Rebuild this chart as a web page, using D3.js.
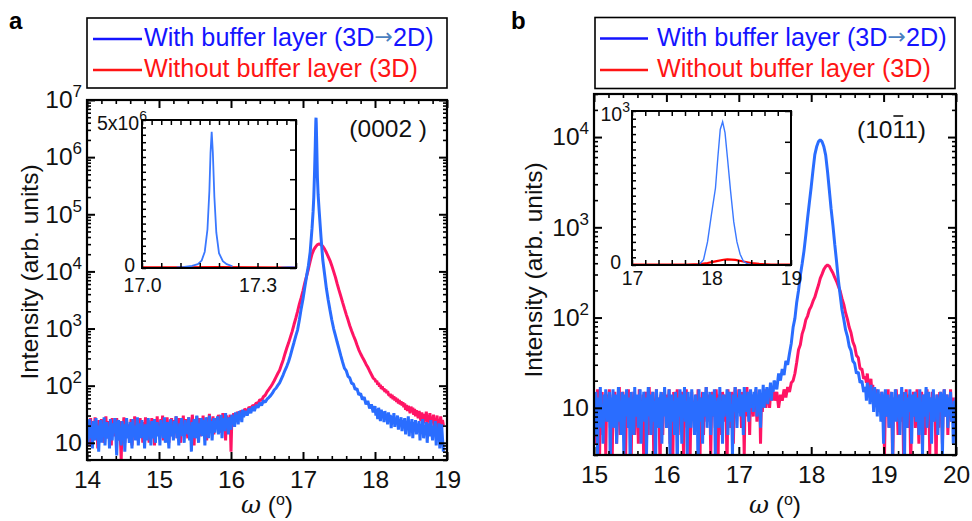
<!DOCTYPE html>
<html><head><meta charset="utf-8">
<script src="https://cdn.jsdelivr.net/npm/d3@7"></script>
<style>
body{margin:0;background:#fff}
text{font-family:"Liberation Sans",Arial,Helvetica,sans-serif}
</style>
</head><body>
<svg id="c" width="972" height="521"></svg>
<script>
// ================= DATA =================
// Each curve is read in three pieces: noisy left wing (fine sampling),
// peak region (0.025 deg sampling), noisy right wing (fine sampling).
// [start omega, step] of each piece:
const segA = {left: [14.0, 0.0125], mid: [16.2, 0.025], right: [18.0, 0.0125]};
const segB = {left: [15.0, 0.0125], mid: [17.5, 0.025], right: [18.75, 0.0125]};

// ---- Panel a, (0002), with buffer layer (blue) ----
const blueA_left = [
22,9,17,26,12,19,8,24,15,11,27,13,20,7,18,25,
10,21,14,28,9,17,23,12,19,8,26,15,11,22,16,27,
13,6,20,25,11,18,9,24,14,21,7,17,27,12,19,10,
23,15,8,26,13,20,11,18,28,9,16,22,12,25,14,19,
8,21,17,11,27,14,20,9,24,16,12,26,10,19,23,13,
18,9,25,15,21,12,28,10,17,23,14,8,20,26,13,19,
11,24,16,29,12,19,9,22,15,27,13,18,10,25,17,21,
14,28,11,20,7,23,17,26,12,19,30,15,10,22,18,27,
13,25,19,9,28,16,22,12,30,18,24,11,20,27,15,23,
19,29,14,24,17,31,12,22,27,16,33,20,25,14,28,21,
17,31,23,27,19,34,24,29,21,36,26,31,23,38,28,33];
const blueA_mid = [
36,30,40,33,43,36,46,41,50,45,55,51,
58,62,67,74,84,90,101,112,132,155,186,218,265,335,440,570,745,950,1420,2230,
3300,5250,8300,12600,22000,56000,200000,3000000,450000,112000,40000,15800,8900,5000,3160,2100,1410,1000,760,575,
440,335,258,203,184,146,137,110,107,86,89,69,73,57,63,47,54,40,47,34];
const blueA_right = [
44,30,39,26,41,33,24,38,29,35,23,36,28,32,21,34,
25,31,18,29,23,33,19,27,22,30,17,26,21,28,16,25,
20,27,14,24,18,29,13,22,19,26,12,23,17,25,14,21,
18,24,11,21,16,26,12,20,15,23,10,19,22,13,25,16,
11,20,15,24,9,18,13,22,8,17,21,12,7];
// finely sampled points on the sharp (0002) peak, [omega, intensity]
const blueA_peak = [[17.13,70000],[17.14,110000],[17.16,520000],[17.165,900000],[17.17,1550000],
[17.178,4200000],[17.181,4900000],[17.184,4000000],[17.188,2400000],[17.193,1200000],[17.21,220000]];

// ---- Panel a, without buffer layer (red) ----
const redA_left = [
24,13,20,9,27,16,22,11,18,28,14,21,8,25,17,12,
26,15,19,10,23,29,12,18,24,14,21,9,27,16,22,13,
20,27,11,17,24,13,5,22,16,28,10,19,25,14,21,12,
18,26,9,22,15,29,12,20,24,11,17,27,14,21,10,23,
16,28,12,19,25,10,22,15,27,13,20,9,24,17,29,14,
21,12,26,16,30,11,19,24,14,28,17,10,23,20,27,13,
25,15,20,29,12,22,27,16,10,24,19,30,14,21,26,17,
12,28,18,23,14,31,20,9,25,17,29,15,22,27,13,24,
19,30,16,25,21,11,28,18,32,15,24,20,29,14,26,22,
27,18,31,22,15,29,24,33,19,26,11,30,23,28,20,31,
7,29,25,33,27,31,24,35,29,33,27,37,31,35,30,39];
const redA_mid = [
38,36,42,40,45,44,50,49,57,55,64,68,
78,86,95,107,122,141,163,186,229,282,363,457,562,708,891,1175,1514,1995,2692,3467,
4570,6300,8300,11000,15100,20000,24000,26900,29500,30200,29500,27500,24500,21400,18200,15500,12600,10000,7940,6030,
4700,3700,2870,2250,1770,1420,1120,915,755,635,515,425,362,315,276,238,210,181,157,136];
const redA_right = [
128,116,122,104,112,96,103,88,97,84,90,78,85,74,80,70,
67,72,61,69,58,65,55,62,52,59,49,56,47,53,45,51,
42,49,38,46,36,44,40,33,43,35,41,31,39,29,37,33,
27,36,30,24,34,28,22,32,27,35,21,30,25,33,20,28,
24,31,19,27,22,30,17,26,21,29,18,25,20];

// ---- Panel b, (10-11), with buffer layer (blue) ----
const blueB_left = [
12,5,15,8,3,13,9,17,6,11,4,14,10,16,7,12,
9,15,2,13,8,16,6,11,14,4,10,17,7,12,5,15,
11,3,14,8,16,10,6,13,2,15,9,12,5,17,8,11,
14,6,10,16,4,12,9,15,7,13,3,11,17,8,14,5,
10,15,7,12,2,16,9,13,6,11,15,4,14,8,17,10,
6,13,9,16,3,11,14,7,12,5,15,10,2,13,8,16,
11,4,14,9,17,7,12,3,15,10,13,6,16,8,11,5,
14,9,12,2,16,7,13,10,4,15,8,11,17,6,12,9,
15,5,11,14,8,16,3,12,10,13,6,17,9,11,4,14,
8,13,10,16,5,12,15,7,11,3,14,9,17,10,6,13,
11,16,8,14,12,5,17,10,13,9,15,7,12,16,10,14,
9,15,12,17,8,13,11,16,6,14,12,18,10,15,13,17,
11,16,14,19,12,17,15,20];
const blueB_mid = [
19,16,24,20,27,23,33,30,40,52,78,98,148,200,295,395,545,815,1260,1890,
2800,4300,6400,7800,8900,9300,8900,7800,6300,4200,2600,1600,1050,650,420,262,178,122,96,73,
62,48,43,33,31,24,25,19,20,15];
const blueB_right = [
17,12,19,14,16,11,18,13,15,9,17,12,14,8,16,11,
13,7,15,10,4,12,16,8,11,14,6,13,9,15,3,12,
10,16,7,13,9,14,5,11,17,8,12,2,15,10,6,13,
9,16,11,4,14,8,12,15,7,10,13,5,16,9,11,3,
14,8,12,17,6,10,15,9,13,4,11,16,7,12,10,14,
5,13,9,15,11,3,12,16,8,10,14,6,13,9,15,7,
11,4,12,10,13];

// ---- Panel b, without buffer layer (red) ----
const redB_left = [
8,14,4,11,16,6,2,13,9,15,5,12,10,3,14,7,
12,16,6,10,2,14,8,15,11,4,13,9,17,5,12,10,
15,7,11,3,14,9,16,6,12,2,13,10,15,5,11,8,
13,4,16,9,12,6,14,2,10,15,8,11,5,17,7,12,
9,15,3,12,10,16,6,13,8,2,14,11,5,15,9,12,
14,6,11,16,4,13,9,2,15,10,7,12,16,5,11,8,
12,15,7,3,14,10,16,6,11,13,2,9,15,8,12,5,
10,14,6,16,9,2,13,11,15,5,12,8,17,7,14,10,
13,3,11,15,8,12,6,16,10,2,14,9,12,5,15,11,
7,14,10,2,16,11,13,6,15,9,4,12,17,8,13,10,
16,9,13,6,15,11,3,14,10,17,8,12,5,15,10,13,
8,14,11,16,7,13,10,15,4,12,9,14,11,16,10,13,
12,15,10,14,13,16,12,15];
const redB_mid = [
12,15,10,14,12,16,13,17,15,19,20,24,32,44,50,66,76,94,104,122,
133,152,168,197,228,272,303,342,368,382,371,338,312,278,252,223,197,163,140,113,
96,78,68,54,48,38,36,27,27,21];
const redB_right = [
22,19,24,18,20,16,21,15,18,13,17,12,16,11,14,9,
13,10,15,7,12,3,11,14,8,16,6,12,9,15,2,11,
13,8,16,10,5,12,14,7,11,15,3,13,9,16,6,10,
14,11,2,13,8,15,10,6,12,16,9,4,13,11,15,7,
10,14,5,12,16,8,11,3,13,9,15,7,12,10,2,14,
11,6,15,9,13,4,12,16,8,10,14,5,12,9,16,7,
10,13,6,11,9];

// ---- Insets (linear intensity), [omega, intensity] ----
const insetABlue = [[17.09,20000],[17.11,35000],[17.13,70000],[17.145,130000],[17.155,250000],[17.163,550000],
[17.17,1300000],[17.175,2600000],[17.178,3900000],[17.181,4600000],[17.184,3900000],[17.188,2400000],
[17.193,1200000],[17.2,500000],[17.21,230000],[17.22,130000],[17.235,60000]];
const insetABlueTail = [[17.36,15000],[17.38,25000],[17.4,20000]];
const insetARed = [[17.0,15000],[17.1,20000],[17.2,30000],[17.3,20000],[17.4,14000]];
const insetBBlue = [[17.8,0],[17.85,5],[17.9,35],[17.95,150],[18.0,330],[18.05,500],[18.08,700],[18.11,880],
[18.14,930],[18.17,860],[18.2,700],[18.24,480],[18.28,280],[18.32,150],[18.36,70],[18.4,25],[18.45,8],[18.5,2],[18.6,0]];
const insetBRed = [[17.0,2],[17.7,3],[17.85,6],[17.95,13],[18.05,24],[18.15,34],[18.2,37],[18.3,33],[18.4,23],
[18.5,13],[18.6,7],[18.75,3],[19.0,2]];

// ---- ticks / labels ----
const xTicksA = [14,15,16,17,18,19];
const xTicksB = [15,16,17,18,19,20];
const yTicksA = [10,1e2,1e3,1e4,1e5,1e6,1e7];
const yTicksB = [10,1e2,1e3,1e4];
const legendLabels = ["With buffer layer (3D", "\u2192", "2D)", "Without buffer layer (3D)"];

// ================= DRAWING =================
const svg = d3.select("#c");
const defs = svg.append("defs");
const FONT = '"Liberation Sans", Arial, Helvetica, sans-serif';

function seg(se, vals) { return vals.map((v, i) => [se[0] + i * se[1], v]); }
function curve(se, l, m, r, extra) {
  const pts = [...seg(se.left, l), ...seg(se.mid, m), ...seg(se.right, r)];
  if (extra) { extra.forEach(p => pts.push(p)); pts.sort((a, b) => a[0] - b[0]); }
  return pts;
}
function logMinor(domain) {
  const out = [];
  for (let e = -1; e <= 8; e++) for (let m = 2; m <= 9; m++) {
    const v = m * Math.pow(10, e);
    if (v >= domain[0] * 0.999 && v <= domain[1] * 1.001) out.push(v);
  }
  return out;
}
function styleAxis(g, w) {
  g.select(".domain").remove();
  g.selectAll(".tick line").attr("stroke", "#000").attr("stroke-width", w);
  g.attr("font-family", FONT);
}
function supText(sel, base, exp, supFs, supDy) {
  sel.text("");
  sel.append("tspan").text(base);
  if (exp !== null) sel.append("tspan").attr("font-size", supFs).attr("dy", supDy).text(exp);
}

function panel(cfg) {
  const x = d3.scaleLinear().domain(cfg.xDomain).range([cfg.left, cfg.right]);
  const y = d3.scaleLog().domain(cfg.yDomain).range([cfg.bottom, cfg.top]);
  const cid = "clip" + cfg.id;
  defs.append("clipPath").attr("id", cid).append("rect")
    .attr("x", cfg.left).attr("y", cfg.top).attr("width", cfg.right - cfg.left).attr("height", cfg.bottom - cfg.top);
  const line = d3.line().x(d => x(d[0])).y(d => y(d[1]));
  svg.append("g").attr("clip-path", `url(#${cid})`)
    .selectAll("path").data(cfg.series).join("path")
    .attr("d", s => line(s.data)).attr("fill", "none")
    .attr("stroke", s => s.color).attr("stroke-width", s => s.width).attr("stroke-linejoin", "bevel");

  const xMinor = d3.range(cfg.xDomain[0], cfg.xDomain[1] + 0.001, 0.2).filter(v => Math.abs(v - Math.round(v)) > 0.01);
  const yMinor = logMinor(cfg.yDomain);
  const gb = svg.append("g").attr("transform", `translate(0,${cfg.bottom})`)
    .call(d3.axisBottom(x).tickValues(cfg.xTicks).tickSize(-8).tickPadding(11).tickFormat(d3.format("d")));
  styleAxis(gb, 2);
  gb.selectAll("text").attr("font-size", cfg.tickFs).attr("fill", "#111");
  styleAxis(svg.append("g").attr("transform", `translate(0,${cfg.bottom})`)
    .call(d3.axisBottom(x).tickValues(xMinor).tickSize(-4).tickFormat("")), 1.6);
  styleAxis(svg.append("g").attr("transform", `translate(0,${cfg.top})`)
    .call(d3.axisTop(x).tickValues(cfg.xTicks).tickSize(-8).tickFormat("")), 2);
  styleAxis(svg.append("g").attr("transform", `translate(0,${cfg.top})`)
    .call(d3.axisTop(x).tickValues(xMinor).tickSize(-4).tickFormat("")), 1.6);
  const gl = svg.append("g").attr("transform", `translate(${cfg.left},0)`)
    .call(d3.axisLeft(y).tickValues(cfg.yTicks).tickSize(-8).tickPadding(5));
  styleAxis(gl, 2);
  gl.selectAll("text").attr("font-size", cfg.tickFs).attr("fill", "#111").each(function(d) {
    const e = Math.round(Math.log10(d));
    supText(d3.select(this), "10", e === 1 ? null : e, 17, -11);
  });
  styleAxis(svg.append("g").attr("transform", `translate(${cfg.left},0)`)
    .call(d3.axisLeft(y).tickValues(yMinor).tickSize(-4).tickFormat("")), 1.6);
  styleAxis(svg.append("g").attr("transform", `translate(${cfg.right},0)`)
    .call(d3.axisRight(y).tickValues(cfg.yTicks).tickSize(-8).tickFormat("")), 2);
  styleAxis(svg.append("g").attr("transform", `translate(${cfg.right},0)`)
    .call(d3.axisRight(y).tickValues(yMinor).tickSize(-4).tickFormat("")), 1.6);
  svg.append("rect").attr("x", cfg.left).attr("y", cfg.top)
    .attr("width", cfg.right - cfg.left).attr("height", cfg.bottom - cfg.top)
    .attr("fill", "none").attr("stroke", "#000").attr("stroke-width", 2.2);

  const cx = (cfg.left + cfg.right) / 2;
  const xt = svg.append("text").attr("x", cx).attr("y", cfg.xTitleY).attr("text-anchor", "middle")
    .attr("font-size", cfg.titleFs).attr("fill", "#111");
  xt.append("tspan").attr("font-style", "italic").attr("font-family", '"DejaVu Serif", "Liberation Serif", serif').text("\u03c9");
  xt.append("tspan").text(" (");
  xt.append("tspan").attr("font-size", 16).attr("dy", -8).text("o");
  xt.append("tspan").attr("dy", 8).text(")");
  svg.append("text").attr("transform", `translate(${cfg.yTitleX},${cfg.yTitleY}) rotate(-90)`)
    .attr("text-anchor", "middle").attr("font-size", cfg.titleFs).attr("fill", "#111")
    .text("Intensity (arb. units)");
}

function inset(cfg) {
  const x = d3.scaleLinear().domain(cfg.xDomain).range([cfg.left, cfg.right]);
  const y = d3.scaleLinear().domain(cfg.yDomain).range([cfg.bottom, cfg.top]);
  svg.append("rect").attr("x", cfg.left).attr("y", cfg.top)
    .attr("width", cfg.right - cfg.left).attr("height", cfg.bottom - cfg.top).attr("fill", "#fff");
  const line = d3.line().x(d => x(d[0])).y(d => y(d[1]));
  svg.append("g").selectAll("path").data(cfg.series).join("path")
    .attr("d", s => line(s.data)).attr("fill", "none")
    .attr("stroke", s => s.color).attr("stroke-width", s => s.width);
  styleAxis(svg.append("g").attr("transform", `translate(0,${cfg.bottom})`)
    .call(d3.axisBottom(x).tickValues(cfg.xMinorB).tickSize(-5).tickFormat("")), 1.5);
  styleAxis(svg.append("g").attr("transform", `translate(0,${cfg.top})`)
    .call(d3.axisTop(x).tickValues(cfg.xMinorT).tickSize(-5).tickFormat("")), 1.5);
  const gl = svg.append("g").attr("transform", `translate(0,${cfg.bottom})`)
    .call(d3.axisBottom(x).tickValues(cfg.xLabels).tickSize(0).tickPadding(cfg.xPad).tickFormat(cfg.xFmt));
  styleAxis(gl, 0);
  gl.selectAll("text").attr("font-size", cfg.fs).attr("fill", "#111");
  styleAxis(svg.append("g").attr("transform", `translate(${cfg.left},0)`)
    .call(d3.axisLeft(y).tickValues(cfg.yMinorL).tickSize(-4).tickFormat("")), 1.5);
  styleAxis(svg.append("g").attr("transform", `translate(${cfg.right},0)`)
    .call(d3.axisRight(y).tickValues(cfg.yMajorR).tickSize(-6).tickFormat("")), 1.5);
  const gylab = svg.append("g").attr("transform", `translate(${cfg.left},0)`)
    .call(d3.axisLeft(y).tickValues(cfg.yDomain).tickSize(0).tickPadding(cfg.yPad));
  styleAxis(gylab, 0);
  gylab.selectAll("text").attr("font-size", cfg.fs).attr("fill", "#111").each(function(d, i) {
    const t = d3.select(this);
    if (i === 0) t.text("0").attr("y", -3);
    else { supText(t, cfg.topBase, cfg.topExp, 14, -9); t.attr("x", cfg.topX).attr("y", 3); }
  });
  svg.append("rect").attr("x", cfg.left).attr("y", cfg.top)
    .attr("width", cfg.right - cfg.left).attr("height", cfg.bottom - cfg.top)
    .attr("fill", "none").attr("stroke", "#000").attr("stroke-width", 2);
}

function legend(L) {
  svg.append("rect").attr("x", L.x).attr("y", L.y).attr("width", L.w).attr("height", L.h)
    .attr("fill", "#fff").attr("stroke", "#000").attr("stroke-width", 1.6);
  svg.append("line").attr("x1", L.lx1).attr("x2", L.lx2).attr("y1", L.y1).attr("y2", L.y1)
    .attr("stroke", "#1414ff").attr("stroke-width", 2.4);
  svg.append("line").attr("x1", L.lx1).attr("x2", L.lx2).attr("y1", L.y2).attr("y2", L.y2)
    .attr("stroke", "#ff1414").attr("stroke-width", 2.4);
  const t1 = svg.append("text").attr("x", L.tx).attr("y", L.b1).attr("font-size", L.fs).attr("fill", "#1414ff");
  t1.append("tspan").text(legendLabels[0]);
  t1.append("tspan").attr("font-size", 22).attr("dy", -2).attr("fill", "#4a7fc0")
    .attr("font-family", '"DejaVu Sans", sans-serif').text(legendLabels[1]);
  t1.append("tspan").attr("dy", 2).text(legendLabels[2]);
  svg.append("text").attr("x", L.tx).attr("y", L.b2).attr("font-size", L.fs).attr("fill", "#ff1414")
    .text(legendLabels[3]);
}

const BLUE = "#2a6dff", RED = "#ff1464";

// ---- Panel a ----
panel({
  id: "a", left: 87, right: 447, top: 100, bottom: 460,
  xDomain: [14, 19], yDomain: [5, 1e7], xTicks: xTicksA, yTicks: yTicksA,
  tickFs: 24.5, titleFs: 24.5, xTitleY: 513, yTitleX: 38, yTitleY: 272,
  series: [
    {data: curve(segA, redA_left, redA_mid, redA_right), color: RED, width: 3},
    {data: curve(segA, blueA_left, blueA_mid, blueA_right, blueA_peak), color: BLUE, width: 3}
  ]
});
inset({
  left: 142, right: 296, top: 120, bottom: 268,
  xDomain: [17.0, 17.4], yDomain: [0, 5e6],
  xMinorB: d3.range(17.0, 17.401, 0.05), xMinorT: d3.range(17.0, 17.401, 0.025),
  xLabels: [17.0, 17.3], xFmt: d3.format(".1f"), xPad: 10, yPad: 7, topX: 5,
  yMinorL: d3.range(0, 5e6 + 1, 2.5e5), yMajorR: d3.range(0, 5e6 + 1, 1e6),
  topBase: "5x10", topExp: "6", fs: 19.5,
  series: [
    {data: insetARed, color: "#ff0000", width: 2.4},
    {data: insetABlue, color: "#3a78ff", width: 1.8},
    {data: insetABlueTail, color: "#3a78ff", width: 1.8}
  ]
});
legend({x: 87, y: 18, w: 360, h: 70, lx1: 93, lx2: 142, y1: 39, y2: 70, tx: 144, b1: 46, b2: 77, fs: 25.2});

// ---- Panel b ----
panel({
  id: "b", left: 594, right: 956, top: 94, bottom: 455,
  xDomain: [15, 20], yDomain: [3, 3e4], xTicks: xTicksB, yTicks: yTicksB,
  tickFs: 24.5, titleFs: 24.5, xTitleY: 513, yTitleX: 542, yTitleY: 270,
  series: [
    {data: curve(segB, redB_left, redB_mid, redB_right), color: RED, width: 3},
    {data: curve(segB, blueB_left, blueB_mid, blueB_right), color: BLUE, width: 3}
  ]
});
inset({
  left: 632, right: 791, top: 111, bottom: 265,
  xDomain: [17, 19], yDomain: [0, 1000],
  xMinorB: d3.range(17, 19.001, 1/6), xMinorT: d3.range(17, 19.001, 1/6),
  xLabels: [17, 18, 19], xFmt: d3.format("d"), xPad: 6, yPad: 11, topX: -2,
  yMinorL: d3.range(0, 1001, 50), yMajorR: d3.range(0, 1001, 200),
  topBase: "10", topExp: "3", fs: 19.5,
  series: [
    {data: insetBRed, color: "#ff0000", width: 2.2},
    {data: insetBBlue, color: "#3a78ff", width: 1.4}
  ]
});
legend({x: 595, y: 17.5, w: 360, h: 71, lx1: 600, lx2: 648, y1: 38.5, y2: 70, tx: 657, b1: 46, b2: 77, fs: 25.2});

// panel letters
svg.append("text").attr("x", 9).attr("y", 29).attr("font-size", 24).attr("font-weight", "bold").text("a");
svg.append("text").attr("x", 511).attr("y", 29).attr("font-size", 24).attr("font-weight", "bold").text("b");

// reflection labels
svg.append("text").attr("x", 427).attr("y", 137).attr("text-anchor", "end").attr("font-size", 24.5)
  .attr("fill", "#111").text("(0002 )");
const rb = svg.append("text").attr("x", 926).attr("y", 138).attr("text-anchor", "end").attr("font-size", 24.5)
  .attr("fill", "#111").text("(1011)");
{
  const node = rb.node();
  const s = node.getStartPositionOfChar(3), e = node.getEndPositionOfChar(3);
  svg.append("line").attr("x1", s.x + 1).attr("x2", e.x - 1).attr("y1", 116).attr("y2", 116)
    .attr("stroke", "#111").attr("stroke-width", 1.6);
}
</script>
</body></html>
